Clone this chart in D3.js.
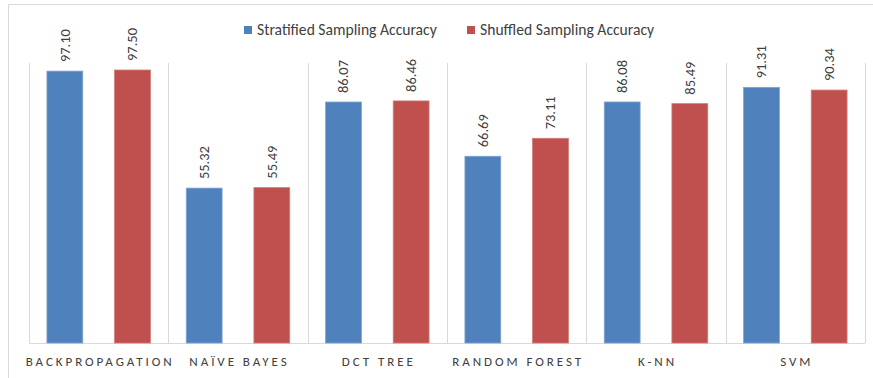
<!DOCTYPE html>
<html>
<head>
<meta charset="utf-8">
<script src="https://cdn.jsdelivr.net/npm/d3@7"></script>
<style>
  html, body { margin: 0; padding: 0; background: #fff; }
  svg { display: block; }
</style>
</head>
<body>
<svg id="chart" width="873" height="378"></svg>
<script>
// Accuracy (%) of each classifier under two sampling schemes
const categories = ["BACKPROPAGATION", "NAÏVE BAYES", "DCT TREE", "RANDOM FOREST", "K-NN", "SVM"];
const seriesNames = ["Stratified Sampling Accuracy", "Shuffled Sampling Accuracy"];
const stratified = [97.10, 55.32, 86.07, 66.69, 86.08, 91.31];
const shuffled = [97.50, 55.49, 86.46, 73.11, 85.49, 90.34];
const seriesColors = ["#4F81BD", "#C0504D"];
const seriesStrokes = ["#7FA3D1", "#D27C79"];

const seriesValues = [stratified, shuffled];
const rows = categories.map((c, i) => ({
  category: c,
  values: seriesNames.map((s, j) => ({ series: s, idx: j, value: seriesValues[j][i] }))
}));

const svg = d3.select("#chart");
const W = 873, H = 378;
const plot = { left: 29, right: 865, top: 63, bottom: 343 };
const font = "Carlito, Calibri, Lato, 'Open Sans', sans-serif";

// scale a text element's font size so its rendered length matches a target width
function fitSize(textEl, baseSize, target) {
  const len = textEl.getComputedTextLength();
  return len > 0 ? baseSize * target / len : baseSize;
}

// chart frame (clipped on right and bottom)
svg.append("path")
  .attr("d", `M8.5,${H + 2}V4.5H${W + 2}`)
  .attr("fill", "none").attr("stroke", "#d9d9d9").attr("stroke-width", 1);

const x0 = d3.scaleBand().domain(categories).range([plot.left, plot.right]).padding(0);
const x1 = d3.scaleBand().domain(seriesNames).range([0, x0.bandwidth()])
  .paddingInner(0.47).paddingOuter(0.265);
const y = d3.scaleLinear().domain([0, 100]).range([plot.bottom, plot.top]);

// vertical separators between categories
const seps = categories.map(c => x0(c)).concat([plot.right]);
svg.append("g").selectAll("line").data(seps).join("line")
  .attr("x1", d => Math.round(d) + 0.5).attr("x2", d => Math.round(d) + 0.5)
  .attr("y1", plot.top).attr("y2", plot.bottom)
  .attr("stroke", "#d9d9d9").attr("stroke-width", 1);

// category axis
const xAxis = svg.append("g")
  .attr("transform", `translate(0,${plot.bottom + 0.5})`)
  .call(d3.axisBottom(x0).tickSize(0).tickPadding(0));
xAxis.select(".domain").attr("stroke", "#d9d9d9").attr("d", `M${plot.left},0H${plot.right}`);
const catText = xAxis.selectAll(".tick text")
  .attr("y", 22)
  .attr("dy", 0)
  .attr("font-family", font)
  .attr("font-size", 13)
  .attr("fill", "#404040");
{
  // letter spacing sized so the longest label spans its measured width
  const first = catText.nodes()[0];
  const plain = first.getComputedTextLength();
  const n = categories[0].length;
  const spacing = Math.max(0, (146 - plain) / (n - 1));
  catText.attr("letter-spacing", spacing + "px")
    .attr("dx", spacing / 2);
}

// bars
const groups = svg.append("g").selectAll("g").data(rows).join("g")
  .attr("transform", d => `translate(${x0(d.category)},0)`);

groups.selectAll("rect").data(d => d.values).join("rect")
  .attr("x", d => x1(d.series))
  .attr("y", d => y(d.value))
  .attr("width", x1.bandwidth())
  .attr("height", d => plot.bottom - y(d.value))
  .attr("fill", d => seriesColors[d.idx])
  .attr("stroke", d => seriesStrokes[d.idx])
  .attr("stroke-width", 0.8);

// rotated value labels
const valText = groups.selectAll("text.val").data(d => d.values).join("text")
  .attr("class", "val")
  .attr("text-anchor", "start")
  .attr("font-family", font)
  .attr("font-size", 15)
  .attr("fill", "#404040")
  .text(d => d.value.toFixed(2));
const valSize = fitSize(valText.node(), 15, 33);
valText.attr("font-size", valSize)
  .attr("transform", d => `translate(${x1(d.series) + x1.bandwidth() / 2 + valSize * 0.34},${y(d.value) - 9}) rotate(-90)`);

// legend
const legendItems = [
  { name: seriesNames[0], color: seriesColors[0], x: 244 },
  { name: seriesNames[1], color: seriesColors[1], x: 467 }
];
const lg = svg.append("g").selectAll("g").data(legendItems).join("g")
  .attr("transform", d => `translate(${d.x},0)`);
lg.append("rect").attr("x", 0).attr("y", 26).attr("width", 8).attr("height", 8)
  .attr("fill", d => d.color);
const lgText = lg.append("text").attr("x", 13).attr("y", 35)
  .attr("font-family", font).attr("font-size", 14)
  .attr("fill", "#404040")
  .text(d => d.name);
lgText.attr("font-size", fitSize(lgText.node(), 14, 180));
</script>
</body>
</html>
